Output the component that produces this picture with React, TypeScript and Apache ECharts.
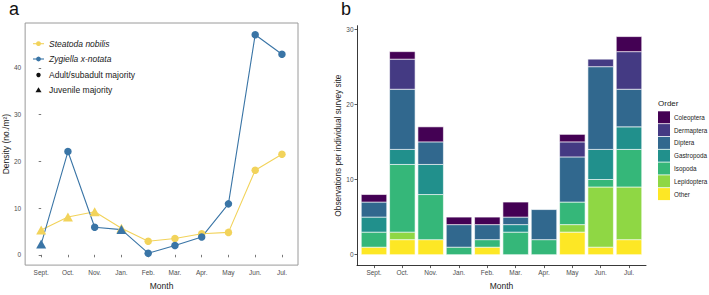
import React, { useEffect, useRef } from "react";
import * as echarts from "echarts";

// Months shared by both panels
const months = ["Sept.", "Oct.", "Nov.", "Jan.", "Feb.", "Mar.", "Apr.", "May", "Jun.", "Jul."];

// Panel a: spider densities (no./m²)
const steatodaDensity = [5.3, 8.1, 9.2, 5.7, 2.9, 3.5, 4.5, 4.8, 18.1, 21.5];
const zygiellaDensity = [2.3, 22.1, 5.9, 5.4, 0.35, 2.0, 3.8, 10.9, 47.1, 42.9];
// true = juvenile majority (triangle), false = adult/subadult majority (circle)
const steatodaJuvenile = [true, true, true, true, false, false, false, false, false, false];
const zygiellaJuvenile = [true, false, false, true, false, false, false, false, false, false];

// Panel b: observations per individual survey site, by prey order
const orders = ["Coleoptera", "Dermaptera", "Diptera", "Gastropoda", "Isopoda", "Lepidoptera", "Other"];
const coleoptera = [1, 1, 2, 1, 1, 2, 0, 1, 0, 2];
const dermaptera = [0, 4, 0, 0, 0, 0, 0, 2, 1, 5];
const diptera = [2, 8, 3, 3, 2, 1, 4, 6, 11, 5];
const gastropoda = [2, 2, 4, 0, 0, 1, 0, 0, 4, 3];
const isopoda = [2, 9, 6, 1, 1, 3, 2, 3, 1, 5];
const lepidoptera = [0, 1, 0, 0, 0, 0, 0, 1, 8, 7];
const other = [1, 2, 2, 0, 1, 0, 0, 3, 1, 2];

const orderValues = [coleoptera, dermaptera, diptera, gastropoda, isopoda, lepidoptera, other];
const orderColors = ["#440154", "#443A83", "#31688E", "#21908C", "#35B779", "#8FD744", "#FDE725"];

const densityTicks = [0, 10, 20, 30, 40];
const obsTicks = [0, 10, 20, 30];
const monthIdx = months.map((_, i) => i);

const YELLOW = "#F2D35B";
const BLUE = "#3A75A6";
const FONT = "'Liberation Sans', Arial, Helvetica, sans-serif";
const BAR_WIDTH = 0.9; // in month units

function spiderSeries(name: string, values: number[], juvenile: boolean[], color: string) {
  return {
    name,
    type: "line",
    xAxisIndex: 0,
    yAxisIndex: 0,
    data: values.map((v, i) => ({
      value: [i, v],
      symbol: juvenile[i] ? "triangle" : "circle",
      symbolSize: juvenile[i] ? [10, 9] : 7.5,
    })),
    lineStyle: { color, width: 1.1 },
    itemStyle: { color },
    showSymbol: true,
  };
}

// Stacked rectangles: each row is [monthIndex, base, top]
function stackRows(): number[][][] {
  const base = months.map(() => 0);
  const rows: number[][][] = orders.map(() => []);
  // bottom of the stack is "Other", top is Coleoptera
  for (let k = orders.length - 1; k >= 0; k--) {
    orderValues[k].forEach((v, i) => {
      rows[k].push([i, base[i], base[i] + v]);
      base[i] += v;
    });
  }
  return rows;
}

export default function App() {
  const ref = useRef<HTMLDivElement>(null);

  useEffect(() => {
    if (!ref.current) return;
    const chart = echarts.init(ref.current, null, { renderer: "svg" });

    const monthLabel = (v: number) => months[Math.round(v)] ?? "";
    const rows = stackRows();

    const barSeries = orders
      .map((name, k) => ({
        name,
        type: "custom",
        xAxisIndex: 1,
        yAxisIndex: 1,
        encode: { x: 0, y: [1, 2] },
        data: rows[k],
        itemStyle: { color: orderColors[k] },
        renderItem: (params: any, api: any) => {
          const i = api.value(0);
          const lo = api.value(1);
          const hi = api.value(2);
          if (hi - lo <= 0) return null;
          const p0 = api.coord([i - BAR_WIDTH / 2, hi]);
          const p1 = api.coord([i + BAR_WIDTH / 2, lo]);
          return {
            type: "rect",
            shape: { x: p0[0], y: p0[1], width: p1[0] - p0[0], height: p1[1] - p0[1] },
            style: { fill: orderColors[k], stroke: "#ffffff", lineWidth: 0.6 },
          };
        },
      }))
      .reverse();

    const legendItems = [
      { y: 43.7, kind: "line", color: YELLOW, text: "Steatoda nobilis", italic: true },
      { y: 59, kind: "line", color: BLUE, text: "Zygiella x-notata", italic: true },
      { y: 75, kind: "dot", color: "#111", text: "Adult/subadult majority", italic: false },
      { y: 90, kind: "tri", color: "#111", text: "Juvenile majority", italic: false },
    ];
    const legendGraphics: any[] = [];
    legendItems.forEach((it) => {
      if (it.kind === "line") {
        legendGraphics.push({
          type: "line",
          shape: { x1: 33, y1: it.y, x2: 44, y2: it.y },
          style: { stroke: it.color, lineWidth: 1.1 },
        });
        legendGraphics.push({
          type: "circle",
          shape: { cx: 38.5, cy: it.y, r: 2.4 },
          style: { fill: it.color },
        });
      } else if (it.kind === "dot") {
        legendGraphics.push({
          type: "circle",
          shape: { cx: 38.5, cy: it.y, r: 2.2 },
          style: { fill: it.color },
        });
      } else {
        legendGraphics.push({
          type: "polygon",
          shape: { points: [[38.5, it.y - 2.8], [41.5, it.y + 2.2], [35.5, it.y + 2.2]] },
          style: { fill: it.color },
        });
      }
      legendGraphics.push({
        type: "text",
        x: 49,
        y: it.y,
        style: {
          text: it.text,
          fill: "#1a1a1a",
          font: `${it.italic ? "italic " : ""}8.5px ${FONT}`,
          verticalAlign: "middle",
        },
      });
    });

    chart.setOption({
      animation: false,
      textStyle: { fontFamily: FONT },
      grid: [
        { left: 22, top: 23, width: 276, height: 253, show: true, borderColor: "#9a9a9a", borderWidth: 1, backgroundColor: "transparent" },
        { left: 357, top: 25.7, width: 289, height: 247.6 },
      ],
      xAxis: [
        {
          type: "value",
          gridIndex: 0,
          min: -0.6,
          max: 9.6,
          name: "Month",
          nameLocation: "middle",
          nameGap: 15,
          nameTextStyle: { fontSize: 8.5, color: "#1a1a1a" },
          axisLine: { show: false },
          axisTick: { show: true, length: 2.5, customValues: monthIdx, lineStyle: { color: "#555", width: 0.8 } },
          axisLabel: { customValues: monthIdx, formatter: monthLabel, fontSize: 6.5, color: "#4d4d4d", margin: 4 },
          splitLine: { show: false },
        },
        {
          type: "value",
          gridIndex: 1,
          min: -0.6,
          max: 9.6,
          name: "Month",
          nameLocation: "middle",
          nameGap: 15,
          nameTextStyle: { fontSize: 8.5, color: "#1a1a1a" },
          axisLine: { show: true, onZero: false, lineStyle: { color: "#222", width: 0.9 } },
          axisTick: { show: true, length: 2.5, customValues: monthIdx, lineStyle: { color: "#333", width: 0.8 } },
          axisLabel: { customValues: monthIdx, formatter: monthLabel, fontSize: 6.5, color: "#4d4d4d", margin: 3.5 },
          splitLine: { show: false },
        },
      ],
      yAxis: [
        {
          type: "value",
          gridIndex: 0,
          min: -2.2,
          max: 49.6,
          name: "Density (no./m²)",
          nameLocation: "middle",
          nameGap: 14,
          nameTextStyle: { fontSize: 8.5, color: "#1a1a1a" },
          axisLine: { show: false },
          axisTick: { show: true, length: 2.5, customValues: densityTicks, lineStyle: { color: "#555", width: 0.8 } },
          axisLabel: { customValues: densityTicks, fontSize: 6.5, color: "#4d4d4d", margin: 4 },
          splitLine: { show: false },
        },
        {
          type: "value",
          gridIndex: 1,
          min: -1.45,
          max: 30.45,
          name: "Observations per individual survey site",
          nameLocation: "middle",
          nameGap: 15,
          nameTextStyle: { fontSize: 8.3, color: "#1a1a1a" },
          axisLine: { show: true, onZero: false, lineStyle: { color: "#222", width: 0.9 } },
          axisTick: { show: true, length: 2.5, customValues: obsTicks, lineStyle: { color: "#333", width: 0.8 } },
          axisLabel: { customValues: obsTicks, fontSize: 6.5, color: "#4d4d4d", margin: 3.5 },
          splitLine: { show: false },
        },
      ],
      legend: {
        data: orders,
        orient: "vertical",
        left: 658,
        top: 111.3,
        padding: 0,
        itemWidth: 12,
        itemHeight: 12,
        itemGap: 0.8,
        icon: "rect",
        itemStyle: { borderWidth: 0 },
        textStyle: { fontSize: 6.3, color: "#1a1a1a", fontFamily: FONT, padding: [0, 0, 0, -1] },
      },
      graphic: [
        { type: "text", x: 9, y: 9.2, style: { text: "a", font: `18px ${FONT}`, fill: "#111", verticalAlign: "middle" } },
        { type: "text", x: 341, y: 9.2, style: { text: "b", font: `18px ${FONT}`, fill: "#111", verticalAlign: "middle" } },
        { type: "text", x: 658, y: 103.7, style: { text: "Order", font: `8px ${FONT}`, fill: "#1a1a1a", verticalAlign: "middle" } },
        ...legendGraphics,
      ],
      series: [
        spiderSeries("Steatoda nobilis", steatodaDensity, steatodaJuvenile, YELLOW),
        spiderSeries("Zygiella x-notata", zygiellaDensity, zygiellaJuvenile, BLUE),
        ...barSeries,
      ],
    });

    return () => chart.dispose();
  }, []);

  return <div ref={ref} style={{ width: 709, height: 295, position: "absolute", left: 0, top: 0 }} />;
}
